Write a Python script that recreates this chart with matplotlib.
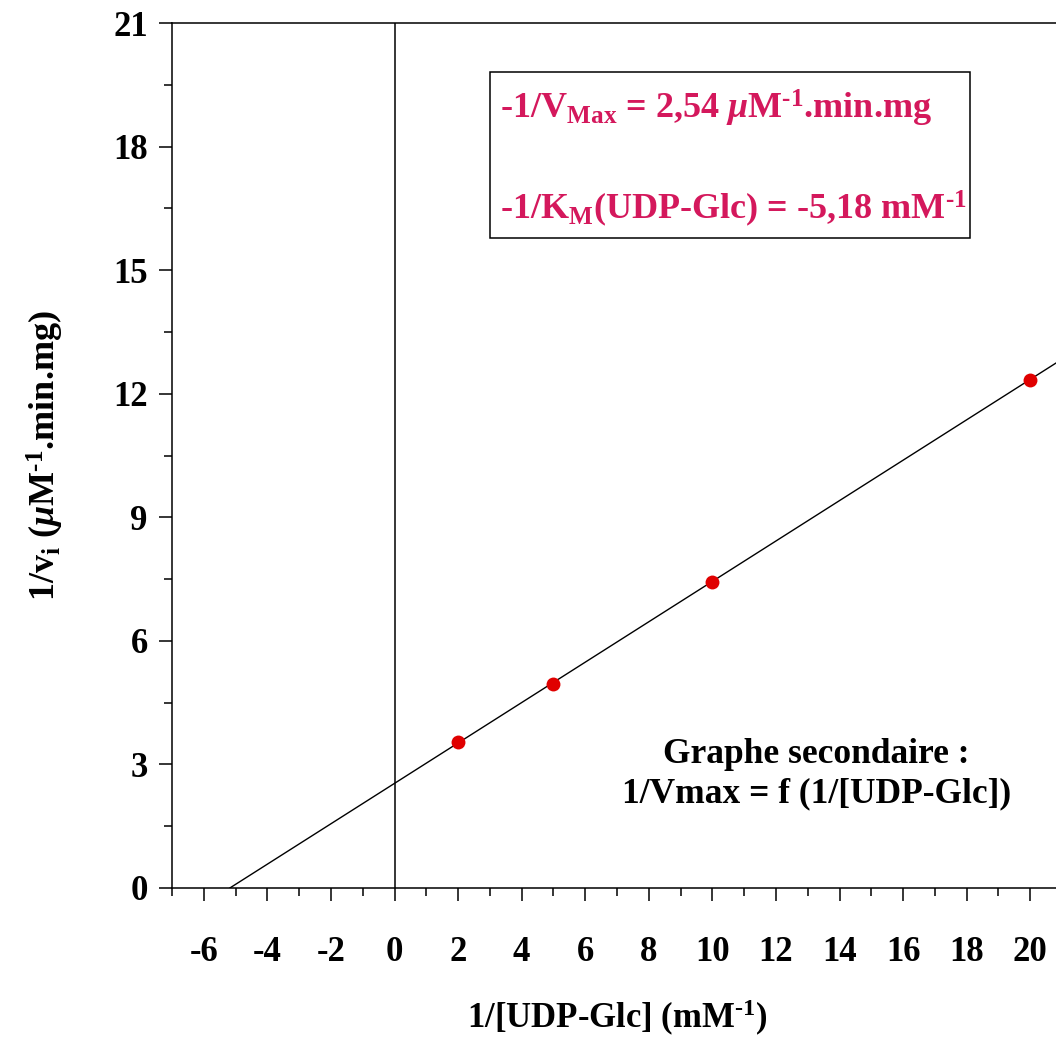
import numpy as np
import matplotlib.pyplot as plt
from matplotlib.patches import Rectangle

plt.rcParams['font.family'] = 'Liberation Serif'
plt.rcParams['font.weight'] = 'bold'
plt.rcParams['axes.labelweight'] = 'bold'
plt.rcParams['axes.unicode_minus'] = False
plt.rcParams['mathtext.fontset'] = 'custom'
plt.rcParams['mathtext.rm'] = 'Liberation Serif:bold'
plt.rcParams['mathtext.it'] = 'Liberation Serif:bold:italic'
plt.rcParams['mathtext.bf'] = 'Liberation Serif:bold'

# donnees : 1/[UDP-Glc] (mM-1) et 1/vi
inv_s = [2, 5, 10, 20]
inv_v = [3.54, 4.96, 7.43, 12.33]

# parametres de la droite
inv_vmax = 2.54      # ordonnee a l'origine
inv_km = -5.18       # abscisse a l'origine

xticks = np.arange(-6, 21, 2)
yticks = np.arange(0, 22, 3)

pink = '#d4185c'

fig = plt.figure(figsize=(10.56, 10.41), dpi=100)
ax = fig.add_axes([172/1056, 153/1041, 890/1056, 865/1041])

slope = -inv_vmax / inv_km
xl = np.array([inv_km, 21.5])
ax.plot(xl, inv_vmax + slope*xl, color='black', lw=1.0, zorder=2)
ax.plot(inv_s, inv_v, 'o', color='#e00000', ms=10, mec='none', zorder=3)
ax.axvline(0, color='black', lw=1.1, zorder=1)

ax.set_xlim(-7, 21)
ax.set_ylim(0, 21)
ax.set_xticks(xticks)
ax.set_xticks(np.arange(-7, 22, 1), minor=True)
ax.set_yticks(yticks)
ax.set_yticks(np.arange(0, 22, 1.5), minor=True)
for s in ax.spines.values():
    s.set_linewidth(1.1)
ax.tick_params(which='major', length=9.5, width=1.1, labelsize=25, direction='out')
ax.tick_params(which='minor', length=5.5, width=1.1, direction='out')
ax.tick_params(axis='x', which='major', pad=25)
ax.tick_params(axis='y', which='major', pad=8)

ax.set_xlabel(r'1/[UDP-Glc] (mM$^{\text{-1}}$)', fontsize=25, labelpad=21)
ax.set_ylabel(r'1/v$_{\mathregular{i}}$ ($\mu$M$^{\text{-1}}$.min.mg)', fontsize=26, labelpad=34)

# encadre des parametres
ax.add_patch(Rectangle((0.357, 0.751), 0.54, 0.192, transform=ax.transAxes,
                       fill=False, ec='black', lw=1.1, zorder=4))
ax.text(0.369, 0.901, r'-1/V$_{\mathregular{Max}}$ = 2,54 $\mu$M$^{\text{-1}}$.min.mg',
        transform=ax.transAxes, fontsize=26, color=pink, va='center', ha='left')
ax.text(0.369, 0.785, r'-1/K$_{\mathregular{M}}$(UDP-Glc) = -5,18 mM$^{\text{-1}}$',
        transform=ax.transAxes, fontsize=26, color=pink, va='center', ha='left')

ax.text(0.724, 0.132, 'Graphe secondaire :\n1/Vmax = f (1/[UDP-Glc])',
        transform=ax.transAxes, fontsize=25.5, ha='center', va='center',
        linespacing=1.26)

fig.savefig('out.png', dpi=100)
